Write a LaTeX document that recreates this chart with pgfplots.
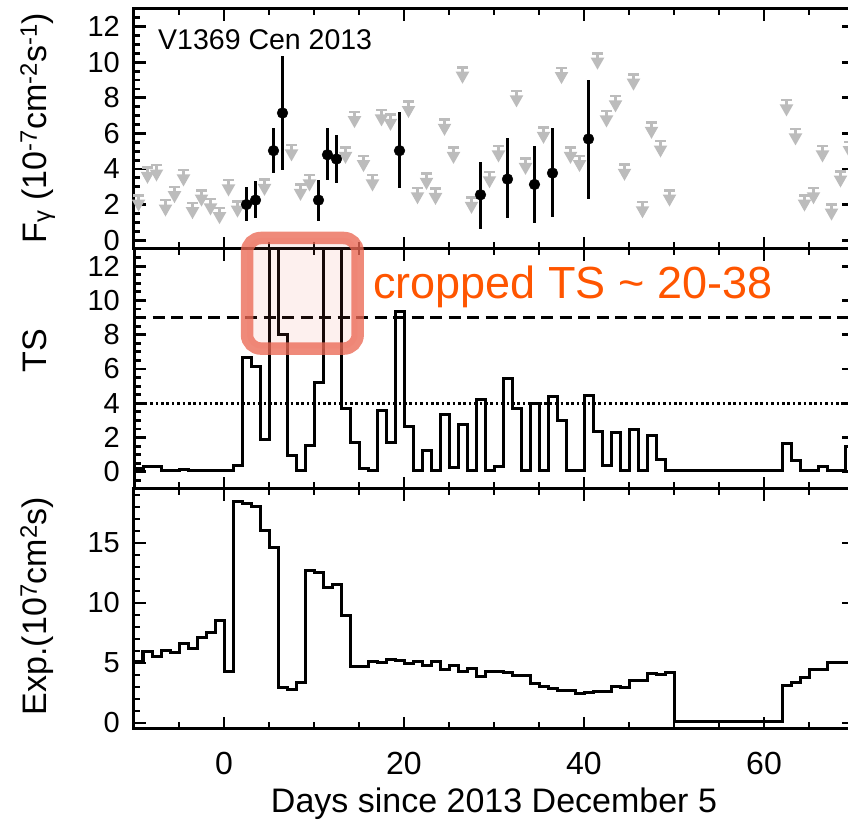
\documentclass[border=0pt]{standalone}
\usepackage{pgfplots}
\pgfplotsset{compat=1.18}
\usepackage{fontspec}
\setmainfont{Liberation Sans}
\definecolor{ulgray}{RGB}{188,188,188}
\definecolor{salmon}{RGB}{235,105,85}
\definecolor{annor}{RGB}{255,85,0}
\pgfdeclareplotmark{ul}{%
  \pgfsetlinewidth{2.5pt}%
  \pgfpathmoveto{\pgfpoint{-5.2pt}{-1.2pt}}\pgfpathlineto{\pgfpoint{5.2pt}{-1.2pt}}%
  \pgfpathmoveto{\pgfpoint{0pt}{-1.2pt}}\pgfpathlineto{\pgfpoint{0pt}{-7pt}}%
  \pgfusepathqstroke
  \pgfpathmoveto{\pgfpoint{-6.8pt}{-5.5pt}}\pgfpathlineto{\pgfpoint{6.8pt}{-5.5pt}}\pgfpathlineto{\pgfpoint{0pt}{-17.5pt}}\pgfpathclose
  \pgfusepathqfill}
\pgfplotsset{common/.style={
  width=720pt, height=240pt, scale only axis, anchor=south west,
  xmin=-10, xmax=70, xtick={-20,0,...,80}, minor x tick num=3,
  tick align=inside, major tick length=12pt, minor tick length=6.5pt,
  axis line style={line width=3pt},
  every tick/.style={line width=2.8pt, black},
  /pgf/number format/assume math mode=true,
  yticklabel style={font=\fontsize{29}{29}\selectfont, inner sep=0pt, xshift=-14pt},
  xticklabel style={font=\fontsize{32}{32}\selectfont, inner sep=0pt, yshift=-23pt},
  ylabel style={font=\fontsize{34}{34}\selectfont, inner sep=0pt, anchor=base},
}}
\begin{document}
\begin{tikzpicture}
% ---------------- top panel: flux ----------------
\begin{axis}[common, at={(134pt,572pt)}, ymin=-0.5, ymax=13, ytick={-2,0,...,14}, minor y tick num=3,
  xticklabels={},
  ylabel={F\textsubscript{γ} (10\textsuperscript{-7}cm\textsuperscript{-2}s\textsuperscript{-1})},
  ylabel style={at={(axis description cs:-0.1222,0.504)}}]
\addplot[only marks, mark=ul, color=ulgray, mark options={solid, fill=ulgray, draw=ulgray}] table {
x y
-9.5 2.59
-8.5 4.15
-7.5 4.28
-6.5 2.31
-5.5 3.06
-4.5 4.0
-3.5 2.16
-2.5 2.87
-1.5 2.37
-0.5 1.88
0.5 3.44
1.5 2.25
4.5 3.47
7.5 5.41
8.5 3.19
9.5 3.72
13.5 5.27
14.5 7.28
15.5 4.81
16.5 3.72
17.5 7.38
18.5 7.13
20.5 7.85
21.5 3.0
22.5 3.81
23.5 2.96
24.5 6.85
25.5 5.27
26.5 9.78
27.5 2.46
29.5 3.9
30.5 5.35
32.5 8.45
33.5 4.65
35.5 6.4
37.5 9.76
38.5 5.27
39.5 4.81
41.5 10.57
42.5 7.32
43.5 8.17
44.5 4.32
45.5 9.39
46.5 2.21
47.5 6.68
48.5 5.63
49.5 2.87
62.5 7.94
63.5 6.31
64.5 2.59
65.5 3.0
66.5 5.35
67.5 2.08
68.5 3.94
69.5 5.59
};
\addplot[only marks, mark=*, mark size=5.4pt, black,
  error bars/.cd, y dir=both, y explicit, error mark=none,
  error bar style={line width=3pt, black}]
  table[x=x, y=y, y error plus=ep, y error minus=em] {
x y ep em
2.5 2.00 0.96 0.95
3.5 2.25 1.07 1.03
5.5 5.03 1.28 1.28
6.5 7.15 3.23 3.21
10.5 2.25 1.15 1.16
11.5 4.80 1.51 1.42
12.5 4.56 1.37 1.37
19.5 5.03 2.20 2.12
28.5 2.55 1.84 1.90
31.5 3.43 2.29 2.21
34.5 3.13 2.14 2.14
36.5 3.77 2.52 2.47
40.5 5.69 3.34 3.38
};
\node[anchor=base west, inner sep=0pt, font=\fontsize{28.5}{28.5}\selectfont] at (axis cs:-7.33,10.7) {V1369 Cen 2013};
\end{axis}
% ---------------- middle panel: TS ----------------
\begin{axis}[common, at={(134pt,332pt)}, ymin=-1, ymax=13, ytick={-2,0,...,14}, minor y tick num=3,
  xticklabels={},
  ylabel={TS},
  ylabel style={at={(axis description cs:-0.1222,0.575)}}]
\addplot[black, line width=2.8pt, dash pattern=on 12pt off 6.5pt] coordinates {(-10,9) (70,9)};
\addplot[black, line width=2.8pt, dash pattern=on 2.6pt off 2.8pt] coordinates {(-10,4) (70,4)};
\addplot[const plot, black, line width=3pt] table {
x y
-10 0.20
-9 0.34
-8 0.34
-7 0.05
-6 0.05
-5 0.13
-4 0.05
-3 0.10
-2 0.05
-1 0.05
0 0.05
1 0.38
2 6.66
3 6.14
4 1.90
5 25
6 8.00
7 0.96
8 0.05
9 1.55
10 5.20
11 30
12 38
13 3.69
14 1.70
15 0.18
16 0.05
17 3.59
18 1.70
19 9.35
20 2.62
21 0.05
22 1.22
23 0.05
24 3.32
25 0.28
26 2.77
27 0.05
28 4.23
29 0.05
30 0.34
31 5.44
32 3.69
33 0.09
34 3.98
35 0.09
36 4.39
37 2.97
38 0.05
39 0.05
40 4.48
41 2.38
42 0.38
43 2.32
44 0.05
45 2.48
46 0.05
47 2.13
48 0.73
49 0.05
50 0.05
55 0.05
61 0.05
62 1.66
63 0.69
64 0.05
65 0.05
66 0.30
67 0.05
68 0.05
69 1.50
70 1.50
};
\end{axis}
% ---------------- bottom panel: exposure ----------------
\begin{axis}[common, at={(134pt,92pt)}, ymin=-0.5, ymax=19.5, ytick={-5,0,...,20}, minor y tick num=4,
  xlabel={Days since 2013 December 5},
  xlabel style={at={(axis description cs:0.5,0)}, anchor=base, yshift=-83pt, inner sep=0pt, font=\fontsize{34}{34}\selectfont},
  ylabel={Exp.(10\textsuperscript{7}cm\textsuperscript{2}s)},
  ylabel style={at={(axis description cs:-0.1222,0.5125)}}]
\addplot[const plot, black, line width=3pt] table {
x y
-10 5.14
-9 5.97
-8 5.56
-7 6.06
-6 5.89
-5 6.64
-4 6.17
-3 7.14
-2 7.58
-1 8.53
0 4.31
1 18.47
2 18.25
3 18.06
4 16.06
5 14.64
6 2.92
7 2.83
8 3.39
9 12.69
10 12.56
11 11.31
12 11.58
13 8.94
14 4.67
15 4.72
16 5.14
17 5.00
18 5.28
19 5.19
20 4.92
21 5.14
22 4.78
23 5.14
24 4.44
25 4.81
26 4.25
27 4.53
28 3.89
29 4.31
30 4.25
31 4.20
32 3.97
33 3.97
34 3.33
35 3.06
36 2.86
37 2.72
38 2.72
39 2.44
40 2.58
41 2.64
42 2.64
43 3.00
44 2.92
45 3.53
46 3.53
47 4.11
48 4.03
49 4.22
50 0.14
61 0.14
62 3.14
63 3.39
64 3.81
65 4.44
66 4.44
67 5.00
68 5.00
69 5.06
70 5.06
};
\end{axis}
% ---------------- annotation ----------------
\draw[salmon, draw opacity=0.78, line width=12.5pt, rounded corners=14pt, fill=salmon, fill opacity=0.1]
  (247pt,472.4pt) rectangle (357.7pt,583pt);
\node[anchor=base west, inner sep=0pt, text=annor, font=\fontsize{45}{45}\selectfont] at (373pt,522.7pt) {cropped TS \textasciitilde{} 20-38};
\pgfresetboundingbox
\useasboundingbox (0pt,0pt) rectangle (848pt,821pt);
\end{tikzpicture}
\end{document}
